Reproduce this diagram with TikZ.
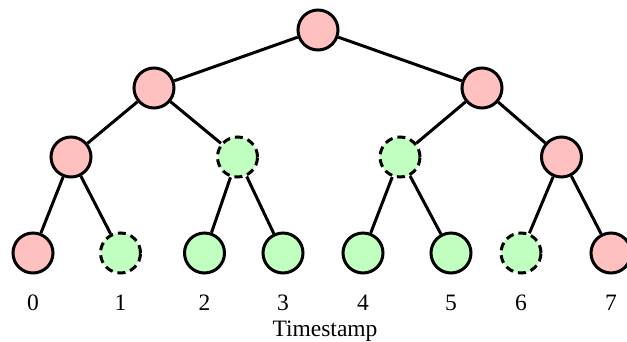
\documentclass[tikz,border=0pt]{standalone}
\usepackage{fontspec}
\setmainfont{Liberation Serif}
\usetikzlibrary{positioning}
\definecolor{nodepink}{RGB}{255,192,192}
\definecolor{nodegreen}{RGB}{192,255,192}

\begin{document}
\begin{tikzpicture}[x=1pt,y=-1pt,line width=3pt,
    node distance=50pt,on grid,
    vertex/.style={circle,draw,minimum size=40pt,inner sep=0pt},
    kept/.style={vertex,fill=nodepink},
    fresh/.style={vertex,fill=nodegreen},
    lost/.style={fresh,dash pattern=on 8pt off 5pt},
    stamp/.style={font=\fontsize{23.5}{28}\selectfont}]
    \useasboundingbox (0,0) rectangle (627,341);
    % tree
    \node[kept] (R) at (318,30) {};
    \node[kept] (A) at (154,88) {};
    \node[kept] (B) at (482,88) {};
    \node[kept] (AA) at (71,157) {};
    \node[lost] (AB) at (237.5,157) {};
    \node[lost] (BA) at (400,157) {};
    \node[kept] (BB) at (561.5,157) {};
    \node[kept] (L0) at (33,253) {};
    \node[lost] (L1) at (120.5,253) {};
    \node[fresh] (L2) at (204.5,253) {};
    \node[fresh] (L3) at (283,253) {};
    \node[fresh] (L4) at (363,253) {};
    \node[fresh] (L5) at (451,253) {};
    \node[lost] (L6) at (521,253) {};
    \node[kept] (L7) at (611,253) {};
    \path [draw]
    (R) edge (A) edge (B)
    (A) edge (AA) edge (AB)
    (B) edge (BA) edge (BB)
    (AA) edge (L0) edge (L1)
    (AB) edge (L2) edge (L3)
    (BA) edge (L4) edge (L5)
    (BB) edge (L6) edge (L7);
    % timestamps
    \foreach \i in {0,...,7}
      \node[stamp,below=50pt of L\i] (T\i) {\i};
    \node[stamp,anchor=base] (axis) at (325,336) {Timestamp};
\end{tikzpicture}
\end{document}
